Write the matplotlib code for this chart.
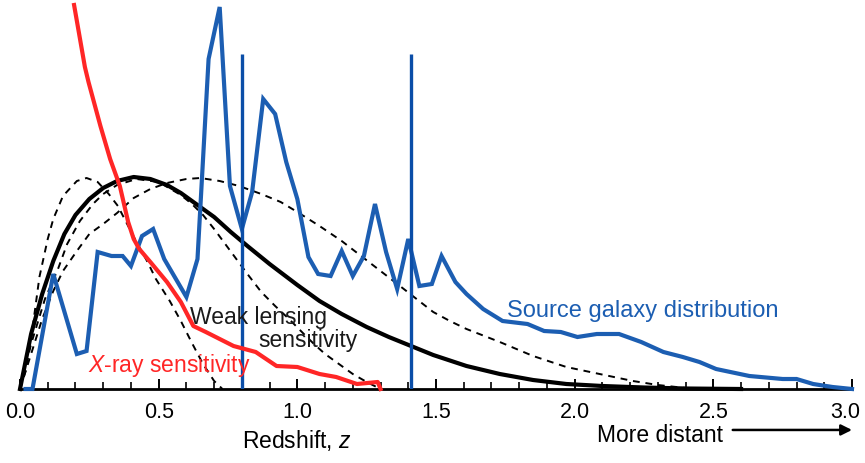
import matplotlib.pyplot as plt
from matplotlib.ticker import MultipleLocator
from matplotlib.transforms import ScaledTranslation

plt.rcParams['font.family'] = 'Liberation Sans'
plt.rcParams['mathtext.fontset'] = 'custom'
plt.rcParams['mathtext.rm'] = 'Liberation Sans'
plt.rcParams['mathtext.it'] = 'Liberation Sans:italic'

# source galaxy redshift distribution (arbitrary units)
src_z = [0.02, 0.045, 0.12, 0.205, 0.24, 0.28, 0.33, 0.37, 0.40, 0.44, 0.48, 0.52,
         0.60, 0.64, 0.68, 0.72, 0.757, 0.80, 0.837, 0.877, 0.92, 0.96, 1.00, 1.04,
         1.075, 1.12, 1.16, 1.20, 1.24, 1.28, 1.32, 1.36, 1.40, 1.44, 1.485, 1.52,
         1.57, 1.61, 1.67, 1.74, 1.83, 1.89, 1.95, 2.01, 2.08, 2.16, 2.24, 2.32,
         2.39, 2.45, 2.51, 2.63, 2.75, 2.80, 2.86, 2.93, 3.0]
src_n = [0, 0, 115, 35, 38, 137, 133, 133, 123, 153, 160, 130,
         92, 130, 330, 382, 203, 160, 197, 290, 275, 227, 190, 132,
         115, 113, 138, 113, 133, 185, 137, 100, 150, 103, 105, 133,
         107, 95, 80, 68, 65, 58, 57, 52, 55, 55, 47, 37,
         32, 27, 20, 13, 10, 10, 5, 2, 0]

# X-ray cluster sensitivity
xray_z = [0.195, 0.234, 0.247, 0.29, 0.325, 0.36, 0.39, 0.41, 0.43, 0.47, 0.53, 0.58,
          0.625, 0.67, 0.77, 0.85, 0.925, 1.0, 1.08, 1.14, 1.215, 1.29, 1.30]
xray_s = [384, 322, 307, 263, 230, 203, 167, 150, 140, 127, 107, 87,
          63, 57, 43, 37, 23, 22, 15, 12, 5, 7, 0]

# weak lensing sensitivity for the full source distribution
lens_z = [0, 0.04, 0.08, 0.12, 0.16, 0.20, 0.25, 0.30, 0.35, 0.41, 0.47, 0.53, 0.58,
          0.64, 0.70, 0.76, 0.82, 0.90, 1.00, 1.08, 1.16, 1.25, 1.33, 1.41, 1.49,
          1.61, 1.73, 1.85, 1.97, 2.10, 2.25, 2.40, 2.60]
lens_s = [0, 55, 95, 128, 155, 174, 190, 201, 208, 212, 210, 204, 196,
          184, 172, 157, 143, 125, 104, 88, 75, 62, 52, 43, 34,
          23, 15, 9, 5, 3, 1.5, 0.5, 0]

# lensing kernels for single source planes
planes = [0.8, 1.41]
plane_top = 335

k08_z = [0, 0.02, 0.04, 0.07, 0.10, 0.12, 0.155, 0.205, 0.24, 0.28, 0.32, 0.353,
         0.39, 0.42, 0.46, 0.49, 0.54, 0.58, 0.62, 0.66, 0.70, 0.73]
k08_s = [0, 18, 50, 112, 150, 170, 193, 208, 211, 207, 195, 183,
         163, 147, 127, 110, 88, 68, 46, 25, 8, 0]

k14_z = [0, 0.04, 0.09, 0.137, 0.17, 0.216, 0.263, 0.30, 0.35, 0.42, 0.50, 0.58,
         0.62, 0.66, 0.70, 0.74, 0.78, 0.82, 0.87, 0.92, 0.97, 1.02, 1.06, 1.10,
         1.15, 1.20, 1.25, 1.30]
k14_s = [0, 45, 90, 120, 145, 168, 185, 195, 204, 210, 207, 194,
         185, 174, 160, 145, 130, 115, 97, 83, 70, 56, 45, 35,
         25, 15, 7, 0]

# broad kernel
kw_z = [0, 0.04, 0.08, 0.12, 0.155, 0.205, 0.25, 0.30, 0.35, 0.41, 0.47, 0.53,
        0.60, 0.65, 0.72, 0.79, 0.87, 0.94, 1.00, 1.08, 1.16, 1.23, 1.30, 1.37,
        1.43, 1.49, 1.55, 1.61, 1.73, 1.85, 1.97, 2.09, 2.21, 2.30, 2.40, 2.50]
kw_s = [0, 35, 70, 98, 118, 138, 155, 165, 176, 191, 200, 206,
        210, 211, 208, 203, 195, 187, 177, 163, 148, 133, 118, 103,
        90, 77, 68, 60, 47, 33, 22, 15, 8, 4, 1, 0]

ticks = [0.0, 0.5, 1.0, 1.5, 2.0, 2.5, 3.0]
tick_labels = ['0.0', '0.5', '1.0', '1.5', '2.0', '2.5', '3.0']

blue = '#1c5eb2'
red = '#ff2626'

fig = plt.figure(figsize=(8.65, 4.64), dpi=100)
ax = fig.add_axes([20 / 865, 74 / 464, 832 / 865, 390 / 464])

for zz, ss in [(k08_z, k08_s), (k14_z, k14_s), (kw_z, kw_s)]:
    ax.plot(zz, ss, color='black', lw=1.4, dashes=(3.5, 3), zorder=1, clip_on=False)
ax.plot(lens_z, lens_s, color='black', lw=3.0, zorder=2, clip_on=False)
ax.plot(src_z, src_n, color=blue, lw=3.0, zorder=3, clip_on=False,
        solid_joinstyle='miter')
ax.vlines(planes, 0, plane_top, color='#0b4ea8', lw=2.4, zorder=4)
ax.plot(xray_z, xray_s, color=red, lw=3.0, zorder=5, clip_on=False)

ax.text(1.756, 73, 'Source galaxy distribution', color=blue, fontsize=17, zorder=6)
ax.text(0.613, 66, 'Weak lensing', color='#1a1a1a', fontsize=16.5, zorder=6)
ax.text(0.858, 43, 'sensitivity', color='#1a1a1a', fontsize=16.5, zorder=6)
ax.text(0.245, 18, r'$\mathit{X}$-ray sensitivity', color=red, fontsize=16.5, zorder=6)

ax.set_xlim(0, 3)
ax.set_ylim(0, 390)
ax.set_xticks(ticks, tick_labels)
ax.xaxis.set_minor_locator(MultipleLocator(0.1))
ax.tick_params(axis='x', which='major', direction='in', length=7, width=1.4,
               labelsize=15.5, pad=9)
ax.tick_params(axis='x', which='minor', direction='in', length=5, width=1.2)
ax.set_yticks([])
for side in ['left', 'top', 'right']:
    ax.spines[side].set_visible(False)
ax.spines['bottom'].set_linewidth(2)

# keep the last tick label inside the figure edge
last = ax.get_xticklabels()[-1]
last.set_transform(last.get_transform() + ScaledTranslation(-7 / 100, 0, fig.dpi_scale_trans))

xt = ax.get_xaxis_transform()
ax.text(1.0, -0.15, r'Redshift, $\mathit{z}$', transform=xt, ha='center',
        va='baseline', fontsize=16.5)
ax.text(2.08, -0.134, 'More distant', transform=xt, ha='left', va='baseline',
        fontsize=16.5)
ax.annotate('', xy=(3.0, -0.105), xytext=(2.57, -0.105), xycoords=xt,
            textcoords=xt, annotation_clip=False,
            arrowprops=dict(arrowstyle='-|>', lw=1.8, color='black',
                            mutation_scale=16, shrinkA=0, shrinkB=0))

fig.savefig('out.png', dpi=100)
